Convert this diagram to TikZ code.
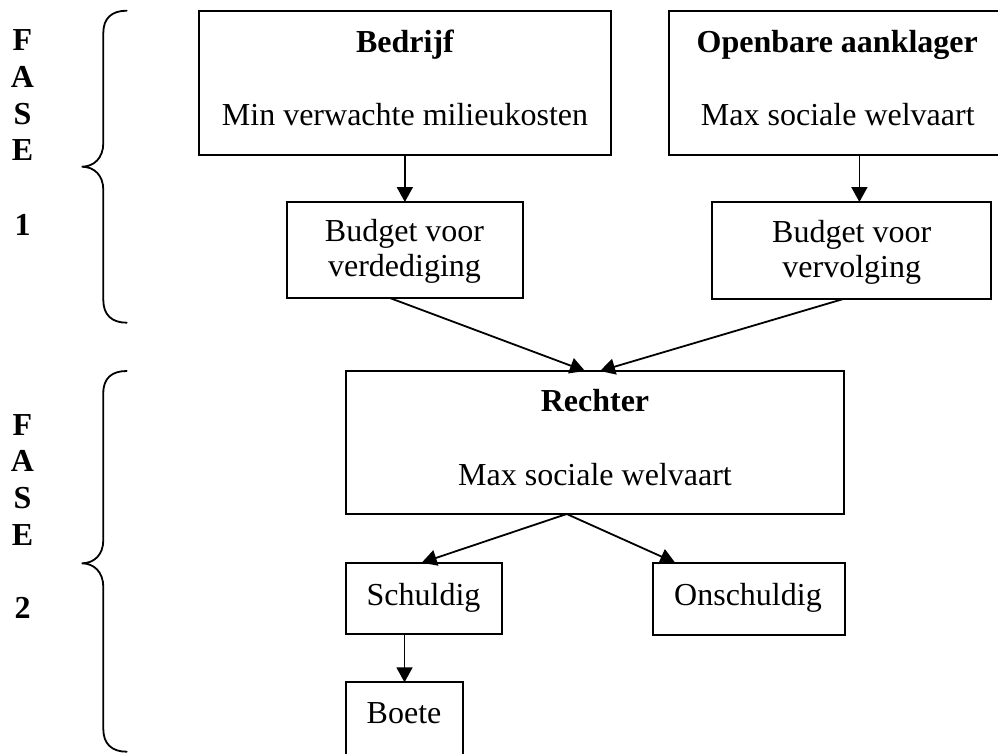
\documentclass[tikz,border=0pt]{standalone}
\usepackage{fontspec}
\setmainfont{Liberation Serif}
\usetikzlibrary{arrows.meta,calc}
\begin{document}
\begin{tikzpicture}[x=1pt,y=-1pt,
  box/.style={draw,line width=1.8pt,inner sep=0pt,outer sep=0pt},
  txt/.style={inner sep=0pt,outer sep=0pt,font=\fontsize{32}{38}\selectfont,anchor=base},
  ltxt/.style={txt,anchor=base west},
  btxt/.style={txt,font=\fontsize{32}{38}\selectfont\bfseries},
  arr/.style={line width=1.8pt,-{Triangle[length=15pt,width=16pt]}},
  bracestyle/.style={line width=1.8pt,line cap=round}]
\useasboundingbox (0,0) rectangle (998,753);
\clip (0,0) rectangle (998,753);
% boxes
\node[box,minimum width=411.7pt,minimum height=144.3pt] (be) at (404.85,82.85) {};
\node[box,minimum width=336.7pt,minimum height=144.3pt] (op) at (837.65,82.85) {};
\node[box,minimum width=235.7pt,minimum height=96pt] (vd) at (404.85,250) {};
\node[box,minimum width=279pt,minimum height=97pt] (vv) at (851.8,250.5) {};
\node[box,minimum width=498.6pt,minimum height=143pt] (re) at (595,442.5) {};
\node[box,minimum width=156pt,minimum height=71.6pt] (sc) at (423.7,598.5) {};
\node[box,minimum width=191.7pt,minimum height=72.3pt] (on) at (749.15,598.85) {};
\node[box,minimum width=117.6pt,minimum height=87.7pt] (bo) at (404.5,726.15) {};
% texts
\node[btxt] (t1) at (405,52) {Bedrijf};
\node[txt] (t2) at (405,125) {Min verwachte milieukosten};
\node[btxt] (t3) at (837.3,52) {Openbare aanklager};
\node[txt] (t4) at (837.8,125) {Max sociale welvaart};
\node[txt] (t5) at (404.5,241.7) {Budget voor};
\node[txt] (t6) at (404.5,276.7) {verdediging};
\node[txt] (t7) at (851.7,242.2) {Budget voor};
\node[txt] (t8) at (851.7,277.2) {vervolging};
\node[btxt] (t9) at (595,411.7) {Rechter};
\node[txt] (t10) at (595,485) {Max sociale welvaart};
\node[ltxt] (t11) at (366.7,605) {Schuldig};
\node[txt] (t12) at (748,605) {Onschuldig};
\node[ltxt] (t13) at (366.7,723.3) {Boete};
% FASE labels
\foreach \l/\y [count=\i] in {F/50.7,A/87.3,S/124,E/160.7,1/235}
  \node[btxt] (fa\i) at (22.5,\y) {\l};
\foreach \l/\y [count=\i] in {F/435,A/471.7,S/508.3,E/545,2/618.3}
  \node[btxt] (fb\i) at (22.5,\y) {\l};
% braces
\draw[bracestyle] (126.7,10.7) .. controls (112,10.7) and (103.3,18) .. (103.3,33)
  -- (103.3,143) .. controls (103.3,158) and (94,166.7) .. (81.7,166.7)
  .. controls (94,166.7) and (103.3,175) .. (103.3,190)
  -- (103.3,300) .. controls (103.3,315) and (112,322.7) .. (126.7,322.7);
\draw[bracestyle] (126.7,371) .. controls (112,371) and (103.3,378) .. (103.3,393)
  -- (103.3,540) .. controls (103.3,555) and (94,563.3) .. (81.7,563.3)
  .. controls (94,563.3) and (103.3,572) .. (103.3,587)
  -- (103.3,729) .. controls (103.3,744) and (112,751.7) .. (126.7,751.7);
% connectors
\draw[arr] (be.south) -- (vd.north);
\draw[arr] ([xshift=7.6pt]vv.north |- op.south) -- ([xshift=7.6pt]vv.north);
\draw[arr] ([xshift=-15pt]vd.south) -- ([xshift=-10pt]re.north);
\draw[arr] ([xshift=-8.5pt]vv.south) -- ([xshift=5pt]re.north);
\coordinate (rs) at ([xshift=-28.3pt]re.south);
\draw[arr] (rs) -- ([xshift=-2pt]sc.north);
\draw[arr] (rs) -- ([xshift=-74pt]on.north);
\draw[arr] (bo.north |- sc.south) -- (bo.north);
\end{tikzpicture}
\end{document}
